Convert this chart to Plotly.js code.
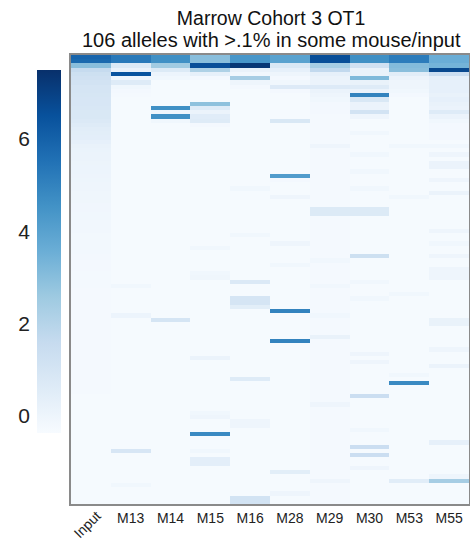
<!DOCTYPE html>
<html>
<head>
<meta charset="utf-8">
<script src="https://cdn.plot.ly/plotly-3.0.1.min.js"></script>
<style>
  html, body { margin: 0; padding: 0; background: #ffffff; }
  #chart { width: 470px; height: 546px; }
</style>
</head>
<body>
<div id="chart"></div>
<script>
// Samples (columns of the heatmap)
const samples = ['Input', 'M13', 'M14', 'M15', 'M16', 'M28', 'M29', 'M30', 'M53', 'M55'];

// Per-sample log abundance of each of the 106 alleles (rows ordered by Input abundance)
const Input = [
  5.9, 5.8, 3.0, 1.6, 1.3, 1.2, 1.1, 1.0, 1.0, 0.95,
  0.9, 0.9, 0.85, 0.8, 0.8, 0.75, 0.6, 0.5, 0.45, 0.4,
  0.3, 0.2, 0.15, 0.12, 0.1, 0.08, 0.06, 0.05, 0.04, 0.02,
  0.0, -0.02, -0.04, -0.05, -0.06, -0.08, -0.09, -0.1, -0.11, -0.12,
  -0.14, -0.15, -0.16, -0.17, -0.18, -0.18, -0.19, -0.2, -0.2, -0.21,
  -0.21, -0.22, -0.22, -0.23, -0.23, -0.24, -0.24, -0.25, -0.25, -0.25,
  -0.26, -0.26, -0.26, -0.26, -0.26, -0.26, -0.26, -0.26, -0.26, -0.26,
  -0.27, -0.27, -0.27, -0.27, -0.27, -0.27, -0.27, -0.27, -0.27, -0.27,
  -0.28, -0.28, -0.28, -0.28, -0.28, -0.28, -0.28, -0.28, -0.28, -0.28,
  -0.29, -0.29, -0.29, -0.29, -0.29, -0.29, -0.29, -0.29, -0.29, -0.29,
  -0.3, -0.3, -0.3, -0.3, -0.3, -0.3
];
const M13 = [
  5.3, 5.3, 0.7, 0.1, 6.4, -0.1, 0.6, -0.1, -0.2, -0.25,
  -0.3, -0.3, -0.3, -0.3, -0.3, -0.3, -0.3, -0.3, -0.3, -0.3,
  -0.3, -0.3, -0.3, -0.3, -0.3, -0.3, -0.3, -0.3, -0.3, -0.3,
  -0.3, -0.3, -0.3, -0.3, -0.3, -0.3, -0.3, -0.3, -0.3, -0.3,
  -0.3, -0.3, -0.3, -0.3, -0.3, -0.3, -0.3, -0.3, -0.3, -0.3,
  -0.3, -0.3, -0.3, -0.3, -0.1, -0.3, -0.3, -0.3, -0.3, -0.3,
  -0.3, 0.05, -0.3, -0.3, -0.3, -0.3, -0.3, -0.3, -0.3, -0.3,
  -0.3, -0.3, -0.3, -0.3, -0.3, -0.3, -0.3, -0.3, -0.3, -0.3,
  -0.3, -0.3, -0.3, -0.3, -0.3, -0.3, -0.3, -0.3, -0.3, -0.3,
  -0.3, -0.3, -0.3, 0.9, -0.3, -0.3, -0.3, -0.3, -0.3, -0.3,
  -0.3, -0.1, -0.3, -0.3, -0.3, -0.3
];
const M14 = [
  4.6, 4.6, 2.5, 0.7, 0.05, -0.1, -0.3, -0.3, -0.3, -0.3,
  -0.3, -0.3, 4.6, 0.0, 4.6, -0.1, -0.3, -0.3, -0.3, -0.3,
  -0.3, -0.3, -0.3, -0.3, -0.3, -0.3, -0.3, -0.3, -0.3, -0.3,
  -0.3, -0.3, -0.3, -0.3, -0.3, -0.3, -0.3, -0.3, -0.3, -0.3,
  -0.3, -0.3, -0.3, -0.3, -0.3, -0.3, -0.3, -0.3, -0.3, -0.3,
  -0.3, -0.3, -0.3, -0.3, -0.3, -0.3, -0.3, -0.3, -0.3, -0.3,
  -0.3, -0.3, 1.0, -0.3, -0.3, -0.3, -0.3, -0.3, -0.3, -0.3,
  -0.3, -0.3, -0.3, -0.3, -0.3, -0.3, -0.3, -0.3, -0.3, -0.3,
  -0.3, -0.3, -0.3, -0.3, -0.3, -0.3, -0.3, -0.3, -0.3, -0.3,
  -0.3, -0.3, -0.3, -0.3, -0.3, -0.3, -0.3, -0.3, -0.3, -0.3,
  -0.3, -0.3, -0.3, -0.3, -0.3, -0.3
];
const M15 = [
  3.0, 3.0, 6.6, 2.2, 0.3, -0.2, -0.3, -0.3, -0.3, -0.3,
  -0.3, 2.9, 0.6, 0.1, 0.55, 0.6, -0.2, -0.3, -0.3, -0.3,
  -0.3, -0.3, -0.3, -0.3, -0.3, -0.3, -0.3, -0.3, -0.3, -0.3,
  -0.3, -0.3, -0.3, -0.3, -0.3, -0.3, -0.3, -0.3, -0.3, -0.3,
  -0.3, -0.3, -0.3, -0.3, -0.3, -0.1, -0.3, -0.3, -0.3, -0.3,
  -0.3, -0.1, -0.05, -0.3, -0.3, -0.3, -0.3, -0.3, -0.3, -0.3,
  -0.3, -0.3, -0.3, -0.3, -0.3, -0.3, -0.3, -0.3, -0.3, -0.3,
  -0.3, 0.1, -0.3, -0.3, -0.3, -0.3, -0.3, -0.3, -0.3, -0.3,
  -0.3, -0.3, -0.3, -0.3, -0.1, 0.0, -0.3, -0.3, -0.3, 4.8,
  -0.3, -0.3, -0.3, -0.1, -0.3, 0.4, 0.4, -0.3, -0.3, -0.3,
  -0.3, -0.3, -0.3, -0.3, -0.3, -0.3
];
const M16 = [
  4.4, 4.4, 7.3, 0.2, -0.1, 2.4, 0.0, -0.2, -0.3, -0.3,
  -0.3, -0.3, -0.3, -0.3, -0.3, -0.3, -0.3, -0.3, -0.3, -0.3,
  -0.3, -0.3, -0.3, -0.3, -0.3, -0.3, -0.3, -0.3, -0.3, -0.3,
  -0.3, -0.1, -0.3, -0.3, -0.3, -0.3, -0.3, -0.3, -0.3, -0.3,
  -0.3, -0.3, -0.1, -0.3, -0.3, -0.3, -0.3, -0.3, -0.3, -0.3,
  -0.3, -0.3, -0.3, 0.75, -0.3, -0.3, -0.3, 1.0, 1.0, 0.45,
  -0.3, -0.3, -0.3, -0.3, -0.3, -0.3, -0.3, -0.3, -0.3, -0.3,
  -0.3, -0.3, -0.3, -0.3, -0.3, -0.3, 0.6, -0.3, -0.3, -0.3,
  -0.3, -0.3, -0.3, -0.3, -0.3, -0.3, 0.0, 0.0, -0.3, -0.3,
  -0.3, -0.3, -0.3, -0.3, -0.3, -0.3, -0.3, -0.3, -0.3, -0.3,
  -0.3, -0.3, -0.3, -0.3, 1.1, 1.1
];
const M28 = [
  4.0, 4.0, 0.8, 0.3, 0.0, -0.2, -0.1, 0.65, -0.2, -0.3,
  -0.3, -0.3, -0.3, -0.3, -0.3, 0.8, -0.3, -0.3, -0.3, -0.3,
  -0.3, -0.3, -0.3, -0.3, -0.3, -0.3, -0.3, -0.3, 4.2, -0.2,
  -0.3, -0.3, -0.3, 0.0, -0.3, -0.3, -0.3, -0.3, -0.3, -0.3,
  -0.3, -0.3, -0.3, -0.3, 0.0, -0.3, -0.3, -0.3, -0.3, -0.1,
  -0.3, -0.3, -0.3, -0.3, -0.3, -0.3, -0.3, -0.3, -0.3, -0.3,
  5.0, -0.3, -0.3, -0.3, -0.3, -0.3, -0.3, 5.0, -0.3, -0.3,
  -0.3, -0.3, -0.3, -0.3, -0.3, -0.3, -0.3, -0.3, -0.3, -0.3,
  -0.3, -0.3, -0.3, -0.3, -0.3, -0.3, -0.3, -0.3, -0.3, -0.3,
  -0.3, -0.3, -0.3, -0.3, -0.3, -0.3, -0.3, -0.3, 0.45, -0.3,
  -0.3, -0.3, -0.3, 0.0, -0.3, -0.3
];
const M29 = [
  6.6, 6.6, 2.4, 1.7, 0.3, 0.1, 0.1, 0.65, 0.1, 0.0,
  -0.1, -0.2, -0.2, -0.2, -0.25, -0.25, -0.25, -0.25, -0.25, -0.25,
  -0.25, 0.0, -0.25, -0.25, -0.25, -0.25, -0.25, -0.25, -0.25, -0.25,
  -0.25, -0.25, -0.25, -0.25, -0.25, -0.25, 0.7, 0.7, -0.25, -0.25,
  -0.25, -0.25, -0.25, -0.25, -0.25, -0.25, -0.25, -0.25, -0.1, -0.25,
  -0.25, -0.25, -0.25, -0.25, -0.1, -0.25, -0.25, -0.25, -0.25, -0.25,
  -0.25, -0.1, -0.25, -0.25, -0.25, -0.25, 0.2, -0.25, -0.25, -0.25,
  -0.25, -0.25, -0.25, -0.25, -0.25, -0.25, -0.25, -0.25, -0.25, -0.25,
  -0.25, -0.25, 0.0, -0.25, -0.25, -0.25, -0.25, -0.25, -0.25, -0.25,
  -0.25, -0.25, -0.25, -0.25, -0.25, -0.25, -0.25, -0.25, -0.25, -0.25,
  0.0, -0.25, -0.25, -0.25, -0.25, -0.25
];
const M30 = [
  4.6, 4.6, 1.2, 0.2, 0.2, 3.2, 0.2, 0.6, 0.1, 5.0,
  0.8, 0.1, 0.1, 1.1, 0.0, -0.3, -0.3, -0.3, -0.1, -0.3,
  -0.3, -0.3, -0.3, -0.1, -0.3, -0.3, -0.3, -0.1, -0.3, -0.3,
  -0.3, -0.1, -0.3, -0.3, -0.3, -0.3, 0.7, 0.7, -0.3, -0.3,
  -0.3, -0.3, -0.3, -0.3, -0.3, -0.3, -0.3, 1.3, -0.3, -0.3,
  -0.3, -0.3, -0.3, -0.1, -0.3, -0.3, -0.3, -0.1, -0.3, -0.3,
  -0.3, -0.3, -0.3, -0.3, -0.3, -0.3, -0.3, -0.3, -0.3, -0.3,
  0.0, -0.3, 0.0, -0.3, -0.3, -0.3, -0.3, -0.3, -0.3, -0.3,
  1.4, -0.3, -0.3, -0.3, -0.3, -0.3, -0.3, -0.3, -0.1, -0.3,
  -0.3, -0.3, 1.4, -0.3, 1.4, -0.3, -0.3, 0.0, -0.3, -0.3,
  -0.3, -0.3, -0.3, -0.3, -0.3, -0.3
];
const M53 = [
  5.2, 5.2, 3.1, 3.0, 0.5, 0.1, 0.0, 0.0, -0.1, -0.2,
  -0.3, -0.3, -0.3, -0.3, -0.3, -0.3, -0.3, -0.3, -0.3, -0.3,
  -0.3, -0.1, -0.3, -0.3, -0.3, -0.3, -0.3, -0.3, -0.3, -0.3,
  -0.3, -0.3, -0.3, -0.1, -0.3, -0.3, -0.3, -0.3, -0.3, -0.3,
  -0.3, -0.3, -0.3, -0.3, -0.3, -0.3, -0.3, -0.3, -0.3, -0.3,
  -0.3, -0.3, -0.3, -0.3, -0.3, -0.3, -0.1, -0.3, -0.3, -0.3,
  -0.3, -0.3, -0.3, -0.3, -0.3, -0.3, -0.3, -0.3, -0.3, -0.3,
  -0.3, -0.3, -0.3, -0.3, -0.3, -0.1, -0.3, 4.8, -0.3, -0.3,
  -0.3, -0.3, -0.3, -0.3, -0.3, -0.3, -0.3, -0.3, -0.3, -0.3,
  -0.3, -0.3, -0.3, -0.3, -0.3, -0.3, -0.3, -0.3, -0.3, -0.3,
  0.5, -0.3, -0.3, -0.3, -0.3, -0.3
];
const M55 = [
  3.6, 3.6, 3.4, 6.8, 1.4, 0.35, 0.3, 0.3, 0.3, 0.2,
  0.3, 0.2, 0.1, 0.6, 0.1, -0.1, -0.2, -0.2, -0.2, -0.2,
  -0.3, -0.1, -0.3, 0.0, -0.3, 0.1, 0.1, -0.3, -0.3, 0.0,
  -0.3, -0.3, 0.1, -0.3, -0.3, -0.3, -0.3, -0.3, -0.3, -0.3,
  -0.3, 0.0, -0.3, -0.3, -0.1, -0.3, -0.3, 0.0, -0.3, -0.3,
  0.0, 0.0, 0.0, -0.3, -0.3, -0.3, -0.3, -0.3, -0.3, -0.3,
  -0.3, -0.3, 0.2, 0.2, -0.3, -0.3, -0.3, -0.3, -0.3, 0.0,
  -0.3, -0.3, -0.3, 0.1, -0.3, -0.3, -0.3, -0.3, -0.3, -0.3,
  -0.3, -0.3, -0.3, -0.3, -0.3, -0.3, -0.3, -0.3, -0.3, -0.3,
  -0.3, 0.3, -0.3, -0.3, -0.3, -0.3, -0.3, -0.3, -0.3, 0.0,
  2.4, -0.3, -0.3, -0.3, -0.3, -0.3
];

const colorTicks = [0, 2, 4, 6];
const zMin = -0.37, zMax = 7.51;

// Sequential blue scale
const blues = [
  [0, '#f7fbff'], [0.125, '#deebf7'], [0.25, '#c6dbef'], [0.375, '#9ecae1'],
  [0.5, '#6baed6'], [0.625, '#4292c6'], [0.75, '#2171b5'], [0.875, '#08519c'], [1, '#08306b']
];

// Build the row-major matrix: one row per allele, one column per sample
const columns = [Input, M13, M14, M15, M16, M28, M29, M30, M53, M55];
const z = Input.map((_, r) => columns.map(col => col[r]));

const FONT = 'Liberation Sans, Arial, Helvetica, sans-serif';
const W = 470, H = 546;
const plotLeft = 71, plotTop = 55, plotBottom = 504;
const paperW = W - 1;
const plotH = plotBottom - plotTop;
const cbTop = 69.3, cbBottom = 432.7, cbLeft = 37;
const cbDomain = [(plotBottom - cbBottom) / plotH, (plotBottom - cbTop) / plotH];

const heat = {
  type: 'heatmap',
  z: z,
  x: samples,
  colorscale: blues,
  zmin: zMin,
  zmax: zMax,
  zsmooth: false,
  hoverinfo: 'skip',
  colorbar: {
    x: cbLeft / paperW, xanchor: 'left', xpad: 0,
    y: cbDomain[0], yanchor: 'bottom', ypad: 0,
    len: cbDomain[1] - cbDomain[0], lenmode: 'fraction',
    thickness: 24, thicknessmode: 'pixels',
    outlinewidth: 0, ticks: '', showticklabels: false
  }
};

// Carrier for the rotated first-column label
const inputLabel = {
  type: 'scatter', x: samples, y: samples.map(() => null),
  xaxis: 'x3', yaxis: 'y', mode: 'markers', showlegend: false, hoverinfo: 'skip'
};

// Carrier for the colour-scale value axis
const scaleAxis = {
  type: 'scatter', x: [null], y: [null],
  xaxis: 'x2', yaxis: 'y2', mode: 'markers', showlegend: false, hoverinfo: 'skip'
};

const frame = '#8a8a8a';

const layout = {
  width: W, height: H,
  margin: { l: 0, r: 1, t: plotTop, b: H - plotBottom, pad: 0 },
  paper_bgcolor: '#ffffff', plot_bgcolor: '#ffffff',
  font: { family: FONT, color: '#222' },
  showlegend: false,
  title: {
    text: 'Marrow Cohort 3 OT1',
    font: { family: FONT, size: 19.5, color: '#111' },
    xref: 'paper', x: 0.578, xanchor: 'center',
    yref: 'container', y: 1 - 18 / H, yanchor: 'middle'
  },
  annotations: [{
    text: '106 alleles with &gt;.1% in some mouse/input',
    xref: 'paper', yref: 'paper', x: 0.578, y: 1 + 15 / plotH,
    xanchor: 'center', yanchor: 'middle', showarrow: false,
    font: { family: FONT, size: 20, color: '#111' }
  }],
  xaxis: {
    domain: [plotLeft / paperW, 1],
    type: 'category', categoryorder: 'array', categoryarray: samples,
    range: [-0.5, samples.length - 0.5],
    tickvals: samples.slice(1), ticks: '', tickangle: 0,
    tickfont: { family: FONT, size: 14, color: '#222' },
    showline: true, mirror: true, linecolor: frame, linewidth: 2,
    showgrid: false, zeroline: false, fixedrange: true
  },
  xaxis3: {
    overlaying: 'x', anchor: 'y', side: 'bottom',
    type: 'category', categoryorder: 'array', categoryarray: samples,
    range: [-0.5, samples.length - 0.5],
    tickvals: ['Input'], ticks: '', tickangle: -45, ticklabelshift: 6,
    tickfont: { family: FONT, size: 14, color: '#222' },
    showline: false, showgrid: false, zeroline: false
  },
  yaxis: {
    autorange: 'reversed',
    showticklabels: false, ticks: '',
    showline: true, mirror: true, linecolor: frame, linewidth: 2,
    showgrid: false, zeroline: false
  },
  xaxis2: { domain: [0, 0.01], anchor: 'y2', visible: false, range: [0, 1] },
  yaxis2: {
    domain: cbDomain, anchor: 'free', position: cbLeft / paperW, side: 'left',
    range: [zMin, zMax], tickvals: colorTicks, ticks: '', ticklabelstandoff: 7,
    tickfont: { family: FONT, size: 21, color: '#222' },
    showline: false, showgrid: false, zeroline: false
  }
};

Plotly.newPlot('chart', [heat, inputLabel, scaleAxis], layout, { staticPlot: true, displayModeBar: false });
</script>
</body>
</html>
